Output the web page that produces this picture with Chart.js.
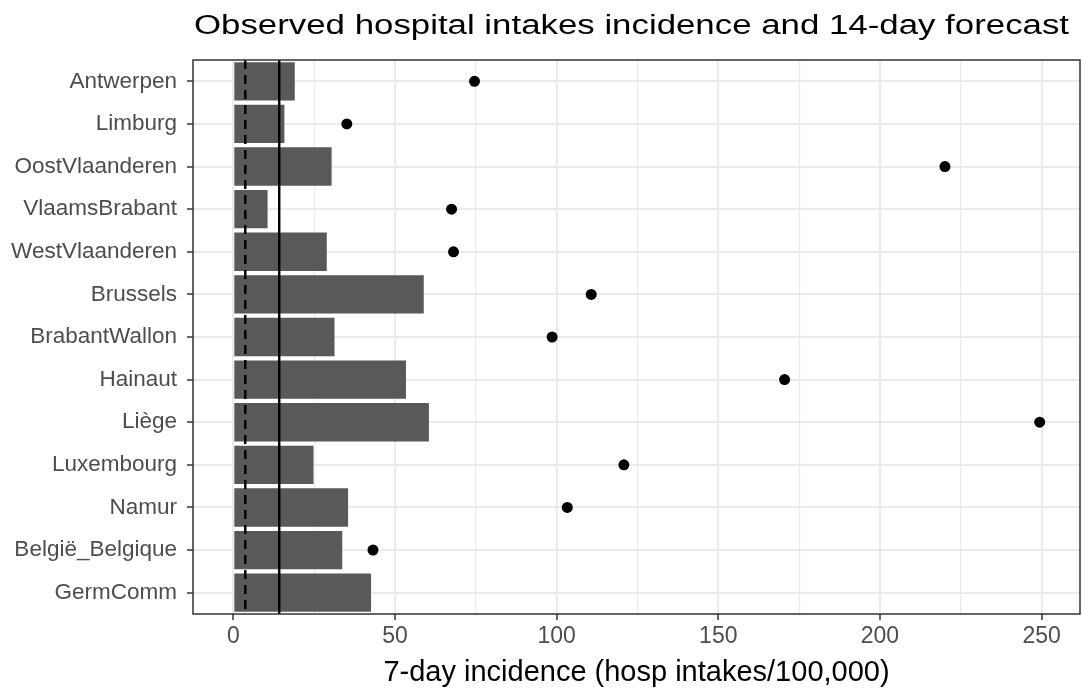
<!DOCTYPE html>
<html>
<head>
<meta charset="utf-8">
<script src="https://cdn.jsdelivr.net/npm/chart.js@4/dist/chart.umd.min.js"></script>
<style>
  html, body { margin: 0; padding: 0; background: #fff; }
  #wrap { width: 1082px; height: 690px; }
</style>
</head>
<body>
<div id="wrap"><canvas id="hospChart"></canvas></div>
<script>
// data
var regions = ["Antwerpen", "Limburg", "OostVlaanderen", "VlaamsBrabant", "WestVlaanderen",
  "Brussels", "BrabantWallon", "Hainaut", "Liège", "Luxembourg", "Namur", "België_Belgique", "GermComm"];
var observed = [19.0, 15.8, 30.4, 10.6, 28.9, 58.9, 31.3, 53.4, 60.5, 24.8, 35.5, 33.7, 42.6];
var forecast = [74.6, 35.1, 220.1, 67.5, 68.1, 110.7, 98.6, 170.5, 249.4, 120.8, 103.3, 43.2, null];
var dashedRef = 3.7;   // dashed vertical line
var solidRef = 14.2;   // solid vertical line
var xTickLabels = [0, 50, 100, 150, 200, 250];
var titleText = "Observed hospital intakes incidence and 14-day forecast";
var xTitle = "7-day incidence (hosp intakes/100,000)";

var allVals = observed.concat(forecast).filter(function(v){ return v !== null; });
var dataMax = Math.max.apply(null, allVals);
var xMin = -0.05 * dataMax;
var xMax = dataMax * 1.05;

const CHART = document.getElementById("hospChart");

var ggPlugin = {
  id: 'ggExtras',
  afterDatasetsDraw: function(chart) {
    var ctx = chart.ctx, area = chart.chartArea, xs = chart.scales.x;
    ctx.save();
    ctx.strokeStyle = "#000";
    ctx.lineWidth = 2.4;
    ctx.setLineDash([9, 6]);
    var px = xs.getPixelForValue(dashedRef);
    ctx.beginPath(); ctx.moveTo(px, area.top); ctx.lineTo(px, area.bottom); ctx.stroke();
    ctx.setLineDash([]);
    px = xs.getPixelForValue(solidRef);
    ctx.beginPath(); ctx.moveTo(px, area.top); ctx.lineTo(px, area.bottom); ctx.stroke();
    ctx.restore();
  },
  afterDraw: function(chart) {
    var ctx = chart.ctx, area = chart.chartArea;
    ctx.save();
    // panel border
    ctx.strokeStyle = "#333333";
    ctx.lineWidth = 1.5;
    ctx.strokeRect(area.left, area.top, area.right - area.left, area.bottom - area.top);
    // title (the source picture is stretched sideways)
    ctx.font = '27px "Liberation Sans", Arial, sans-serif';
    ctx.fillStyle = "#000";
    ctx.textBaseline = "alphabetic";
    var w = ctx.measureText(titleText).width;
    var target = 875;
    ctx.translate(area.left + 1, 34);
    ctx.scale(target / w, 1);
    ctx.fillText(titleText, 0, 0);
    ctx.restore();
  }
};

let hospChart = new Chart(CHART, {
  type: 'bar',
  data: {
    labels: regions,
    datasets: [
      {
        type: 'bar',
        label: 'observed',
        data: observed,
        backgroundColor: "#595959",
        borderWidth: 0,
        barPercentage: 0.9,
        categoryPercentage: 1.0,
        order: 2
      },
      {
        type: 'line',
        label: 'forecast',
        indexAxis: 'y',
        data: forecast,
        showLine: false,
        pointRadius: 5.5,
        pointHoverRadius: 5.5,
        pointBackgroundColor: "#000",
        pointBorderColor: "#000",
        pointBorderWidth: 0,
        order: 1
      }
    ]
  },
  options: {
    indexAxis: 'y',
    responsive: true,
    maintainAspectRatio: false,
    animation: false,
    layout: { autoPadding: false, padding: { top: 60, right: 2, left: 0, bottom: 0 } },
    plugins: {
      legend: { display: false },
      tooltip: { enabled: false },
      title: { display: false }
    },
    scales: {
      x: {
        type: 'linear',
        min: xMin,
        max: xMax,
        border: { display: false },
        ticks: {
          stepSize: 25,
          includeBounds: false,
          color: "#4D4D4D",
          font: { family: '"Liberation Sans", Arial, sans-serif', size: 23 },
          padding: 3,
          maxRotation: 0,
          autoSkip: false,
          callback: function(v) { return xTickLabels.indexOf(v) >= 0 ? String(v) : ''; }
        },
        grid: {
          color: "#EBEBEB",
          lineWidth: function(c) { return (c.tick && xTickLabels.indexOf(c.tick.value) >= 0) ? 2 : 1.2; },
          tickColor: function(c) { return (c.tick && xTickLabels.indexOf(c.tick.value) >= 0) ? "#333333" : "rgba(0,0,0,0)"; },
          tickWidth: 1.5,
          tickLength: 6,
          drawTicks: true
        },
        title: {
          display: true,
          text: xTitle,
          color: "#000",
          font: { family: '"Liberation Sans", Arial, sans-serif', size: 29 },
          padding: { top: 0, bottom: 0 }
        },
        afterFit: function(scale) { scale.height = 76; }
      },
      y: {
        type: 'category',
        offset: true,
        border: { display: false },
        ticks: {
          color: "#4D4D4D",
          font: { family: '"Liberation Sans", Arial, sans-serif', size: 22.5 },
          padding: 10,
          autoSkip: false
        },
        grid: {
          offset: false,
          color: "#EBEBEB",
          lineWidth: 2,
          tickColor: "#333333",
          tickWidth: 1.5,
          tickLength: 6
        },
        afterFit: function(scale) { scale.width = 193; }
      }
    }
  },
  plugins: [ggPlugin]
});
</script>
</body>
</html>
